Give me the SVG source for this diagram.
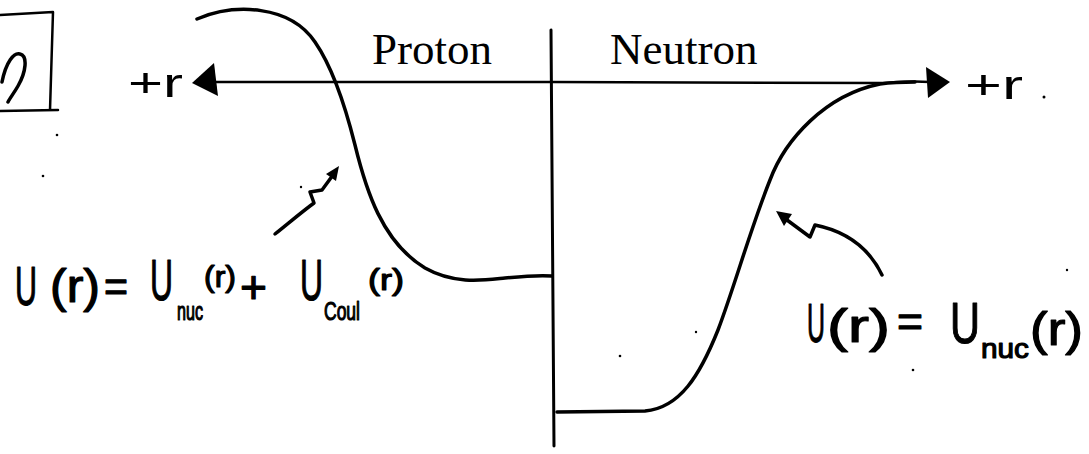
<svg xmlns="http://www.w3.org/2000/svg" width="1089" height="454" viewBox="0 0 1089 454">
<style>
.ink{fill:none;stroke:#000;stroke-linecap:round;stroke-linejoin:round}
.curve{stroke-width:3.5}
.axis{stroke-width:2.5}
.hand{font-family:"Liberation Sans","DejaVu Sans",sans-serif;fill:#000;stroke:#000;stroke-width:1.2;stroke-linejoin:round}
.thin{font-family:"Liberation Sans","DejaVu Sans",sans-serif;fill:#000}
.serif{font-family:"Liberation Serif","DejaVu Serif",serif;fill:#000;font-size:45px}
.dot{fill:#000}
</style>
<rect width="1089" height="454" fill="#fff"/>
<g id="frame-box">
<path class="ink axis" d="M0,15 L53,12 L50,110 M0,111 L58,110"/>
<path class="ink curve" d="M2,82 C6,62 14,52 20,54 C28,56 26,72 18,86 C14,93 10,98 8,102"/>
</g>
<g id="connectors">
<path id="r-axis" class="ink axis" d="M205,82 L552,82 L880,83 C895,83 905,80 930,82"/>
<polygon points="192,83 214,63 218,96" fill="#000"/>
<polygon points="926,67 950,82 928,98" fill="#000"/>
<path id="center-line" class="ink" stroke-width="3" d="M551,30 L554,446"/>
<path id="arrow-left" class="ink" stroke-width="3.5" d="M275,234 C290,222 303,211 314,203 L310,192 L322,190 L333,175"/>
<polygon points="339,166 336,181 326,174" fill="#000"/>
<path id="arrow-right" class="ink" stroke-width="3.5" d="M882,275 C870,250 850,232 815,225 L810,237 L787,220"/>
<polygon points="776,211 792,214 784,226" fill="#000"/>
</g>
<g id="proton-potential">
<path class="ink curve" d="M197,19 C235,3 290,5 315,42 C333,68 345,105 355,145 C366,190 382,242 425,268 C455,285 485,280 505,278 C525,276 540,275 552,276"/>
</g>
<g id="neutron-potential">
<path class="ink curve" d="M557,412 L645,411 C680,408 700,375 718,330 C735,285 750,230 770,180 C785,140 825,95 880,84 C895,82 905,82 915,82"/>
</g>
<g id="label-proton"><text class="serif" x="372" y="64">Proton</text></g>
<g id="label-neutron"><text class="serif" x="610" y="64">Neutron</text></g>
<g id="label-r-left"><text class="thin" x="128" y="97" font-size="40" textLength="55" lengthAdjust="spacingAndGlyphs">+r</text></g>
<g id="label-r-right"><text class="thin" x="965" y="99" font-size="40" textLength="58" lengthAdjust="spacingAndGlyphs">+r</text></g>
<g id="formula-proton" class="hand">
<text x="15" y="305" font-size="56" textLength="22" lengthAdjust="spacingAndGlyphs">U</text>
<text x="50" y="302" font-size="46" textLength="50" lengthAdjust="spacingAndGlyphs">(r)</text>
<text x="104" y="302" font-size="44" textLength="24" lengthAdjust="spacingAndGlyphs">=</text>
<text x="150" y="300" font-size="58" textLength="23" lengthAdjust="spacingAndGlyphs">U</text>
<text x="177" y="320" font-size="26" textLength="26" lengthAdjust="spacingAndGlyphs">nuc</text>
<text x="204" y="287" font-size="30" textLength="32" lengthAdjust="spacingAndGlyphs">(r)</text>
<text x="240" y="303" font-size="46" textLength="27" lengthAdjust="spacingAndGlyphs">+</text>
<text x="300" y="300" font-size="58" textLength="23" lengthAdjust="spacingAndGlyphs">U</text>
<text x="324" y="320" font-size="26" textLength="36" lengthAdjust="spacingAndGlyphs">Coul</text>
<text x="368" y="290" font-size="30" textLength="36" lengthAdjust="spacingAndGlyphs">(r)</text>
</g>
<g id="formula-neutron" class="hand">
<text x="807" y="342" font-size="56" textLength="18" lengthAdjust="spacingAndGlyphs">U</text>
<text x="827" y="342" font-size="46" textLength="63" lengthAdjust="spacingAndGlyphs">(r)</text>
<text x="897" y="337" font-size="44" textLength="26" lengthAdjust="spacingAndGlyphs">=</text>
<text x="950" y="343" font-size="58" textLength="30" lengthAdjust="spacingAndGlyphs">U</text>
<text x="981" y="358" font-size="28" textLength="48" lengthAdjust="spacingAndGlyphs">nuc</text>
<text x="1030" y="345" font-size="46" textLength="53" lengthAdjust="spacingAndGlyphs">(r)</text>
</g>
<g id="specks">
<circle class="dot" cx="57" cy="135" r="1.3"/>
<circle class="dot" cx="43" cy="176" r="1.3"/>
<circle class="dot" cx="301" cy="187" r="1.2"/>
<circle class="dot" cx="1044" cy="97" r="1.5"/>
<circle class="dot" cx="620" cy="356" r="1.3"/>
<circle class="dot" cx="696" cy="332" r="1.2"/>
<circle class="dot" cx="913" cy="370" r="1.3"/>
<circle class="dot" cx="1067" cy="270" r="1.2"/>
</g>
</svg>
